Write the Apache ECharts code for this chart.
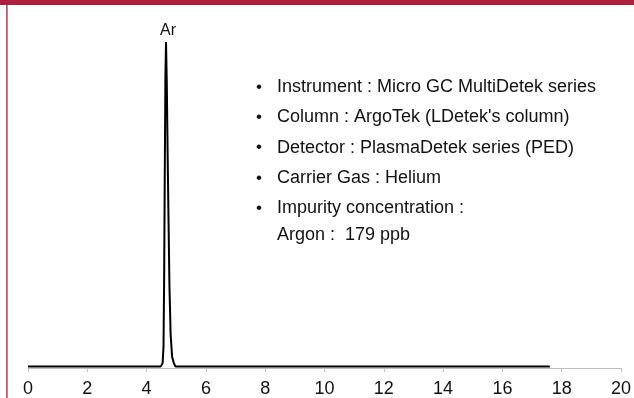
<!DOCTYPE html>
<html><head><meta charset="utf-8">
<script src="https://cdn.jsdelivr.net/npm/echarts@6/dist/echarts.min.js"></script>
<style>html,body{margin:0;padding:0;background:#fff}#c{width:634px;height:398px}</style>
</head><body><div id="c"></div>
<script>
// Retention time (min) and detector signal (relative, peak = 100)
var times  = [0, 4.48, 4.54, 4.57, 4.59, 4.61, 4.635, 4.655, 4.68, 4.71, 4.74, 4.77, 4.81, 4.86, 4.92, 4.97, 17.6];
var signal = [0, 0,    1,    6,    25,   55,   90,    100,   88,   65,   45,   25,   10,   3,    1,    0,    0];
var peakName = 'Ar';
var xTicks = [0, 2, 4, 6, 8, 10, 12, 14, 16, 18, 20];
var notes = [
  'Instrument : Micro GC MultiDetek series',
  'Column : ArgoTek (LDetek\'s column)',
  'Detector : PlasmaDetek series (PED)',
  'Carrier Gas : Helium',
  'Impurity concentration :'
];
var noteExtra = 'Argon :  179 ppb';

var FONT = 'Liberation Sans';
var data = times.map(function (t, i) { return [t, signal[i]]; });

var graphics = [
  { type: 'rect', shape: { x: 0, y: 0, width: 634, height: 5 }, style: { fill: '#AD1F3D' }, silent: true },
  { type: 'rect', shape: { x: 6, y: 5, width: 1.8, height: 393 }, style: { fill: '#C25A70' }, silent: true }
];
var y0 = 87, dy = 30.3;
notes.forEach(function (n, i) {
  graphics.push({ type: 'text', x: 256, y: y0 + i * dy, style: { text: '•', font: '17px ' + FONT, fill: '#111', verticalAlign: 'middle' } });
  graphics.push({ type: 'text', x: 277, y: y0 + i * dy, style: { text: n, font: '18px ' + FONT, fill: '#111', verticalAlign: 'middle' } });
});
graphics.push({ type: 'text', x: 277, y: y0 + 4 * dy + 27, style: { text: noteExtra, font: '18px ' + FONT, fill: '#111', verticalAlign: 'middle' } });

var chart = echarts.init(document.getElementById('c'), null, { renderer: 'canvas' });
chart.setOption({
  animation: false,
  backgroundColor: '#fff',
  grid: { left: 28, right: 13, top: 42, bottom: 30 },
  xAxis: {
    type: 'value', min: xTicks[0], max: xTicks[xTicks.length - 1], interval: 2,
    axisLine: { show: true, onZero: false, lineStyle: { color: '#BFBFBF', width: 1 } },
    axisTick: { show: true, length: 4, lineStyle: { color: '#BFBFBF' } },
    axisLabel: { color: '#111', fontSize: 18, fontFamily: FONT, margin: 12 },
    splitLine: { show: false }
  },
  yAxis: { type: 'value', min: -0.5, max: 100, show: false, splitLine: { show: false } },
  series: [{
    type: 'line', data: data, showSymbol: false, smooth: false,
    lineStyle: { color: '#000', width: 2 },
    markPoint: {
      symbol: 'circle', symbolSize: 0,
      data: [{ type: 'max' }],
      label: { show: true, position: 'top', distance: 3, offset: [2, 0], formatter: peakName, color: '#111', fontSize: 16, fontFamily: FONT }
    }
  }],
  graphic: graphics
});
</script></body></html>
